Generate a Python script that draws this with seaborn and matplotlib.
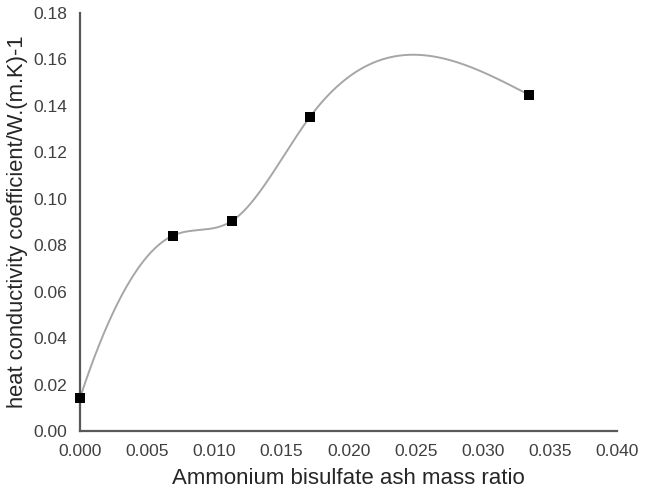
import numpy as np
import pandas as pd
import matplotlib
matplotlib.use("Agg")
import matplotlib.pyplot as plt
import seaborn as sns

# Data
ash_ratio = [0.0, 0.0069, 0.01135, 0.0171, 0.03345]
conductivity = [0.0142, 0.0841, 0.0906, 0.1351, 0.1447]
x_ticks = [0.000, 0.005, 0.010, 0.015, 0.020, 0.025, 0.030, 0.035, 0.040]
y_ticks = [0.00, 0.02, 0.04, 0.06, 0.08, 0.10, 0.12, 0.14, 0.16, 0.18]
x_label = "Ammonium bisulfate ash mass ratio"
y_label = "heat conductivity coefficient/W.(m.K)-1"


def smooth_spline(x, y, n=400):
    x = np.asarray(x, float)
    y = np.asarray(y, float)
    k = len(x)
    h = np.diff(x)
    A = np.zeros((k, k))
    b = np.zeros(k)
    # parabolic run-out at the start, natural at the end
    A[0, 0] = 1
    A[0, 1] = -1
    A[-1, -1] = 1
    for i in range(1, k - 1):
        A[i, i - 1] = h[i - 1]
        A[i, i] = 2 * (h[i - 1] + h[i])
        A[i, i + 1] = h[i]
        b[i] = 3 * ((y[i + 1] - y[i]) / h[i] - (y[i] - y[i - 1]) / h[i - 1])
    c = np.linalg.solve(A, b)
    xs = np.linspace(x[0], x[-1], n)
    ys = np.empty_like(xs)
    for j, xv in enumerate(xs):
        i = min(np.searchsorted(x, xv, side="right") - 1, k - 2)
        dx = xv - x[i]
        bi = (y[i + 1] - y[i]) / h[i] - h[i] * (2 * c[i] + c[i + 1]) / 3
        di = (c[i + 1] - c[i]) / (3 * h[i])
        ys[j] = y[i] + bi * dx + c[i] * dx ** 2 + di * dx ** 3
    return xs, ys


sx, sy = smooth_spline(ash_ratio, conductivity)
curve = pd.DataFrame({"x": sx, "y": sy})
pts = pd.DataFrame({"x": ash_ratio, "y": conductivity})

sns.set_style("white")
plt.rcParams["font.family"] = ["Liberation Sans", "DejaVu Sans"]

fig = plt.figure(figsize=(6.45, 5.01), dpi=100)
ax = fig.add_axes([0.124, 0.1397, 0.833, 0.8343])

sns.lineplot(data=curve, x="x", y="y", ax=ax, color="#a6a6a6", linewidth=1.4,
             estimator=None, sort=False)
sns.scatterplot(data=pts, x="x", y="y", ax=ax, marker="s", s=55, color="black",
                edgecolor="black", linewidth=0, zorder=5, clip_on=False)

ax.set_xlim(0, 0.040)
ax.set_ylim(0, 0.18)
ax.set_xticks(x_ticks)
ax.set_yticks(y_ticks)
ax.set_xticklabels([f"{v:.3f}" for v in x_ticks])
ax.set_yticklabels([f"{v:.2f}" for v in y_ticks])
ax.tick_params(axis="both", length=0, labelsize=12.5, labelcolor="#404040")
ax.tick_params(axis="x", pad=9)
ax.tick_params(axis="y", pad=9)

for side in ["top", "right"]:
    ax.spines[side].set_visible(False)
for side in ["left", "bottom"]:
    ax.spines[side].set_color("#595959")
    ax.spines[side].set_linewidth(1.6)

ax.set_xlabel(x_label, fontsize=16, color="#262626", labelpad=7)
ax.set_ylabel(y_label, fontsize=15.8, color="#262626", labelpad=4)

fig.savefig("out.png", dpi=100)
